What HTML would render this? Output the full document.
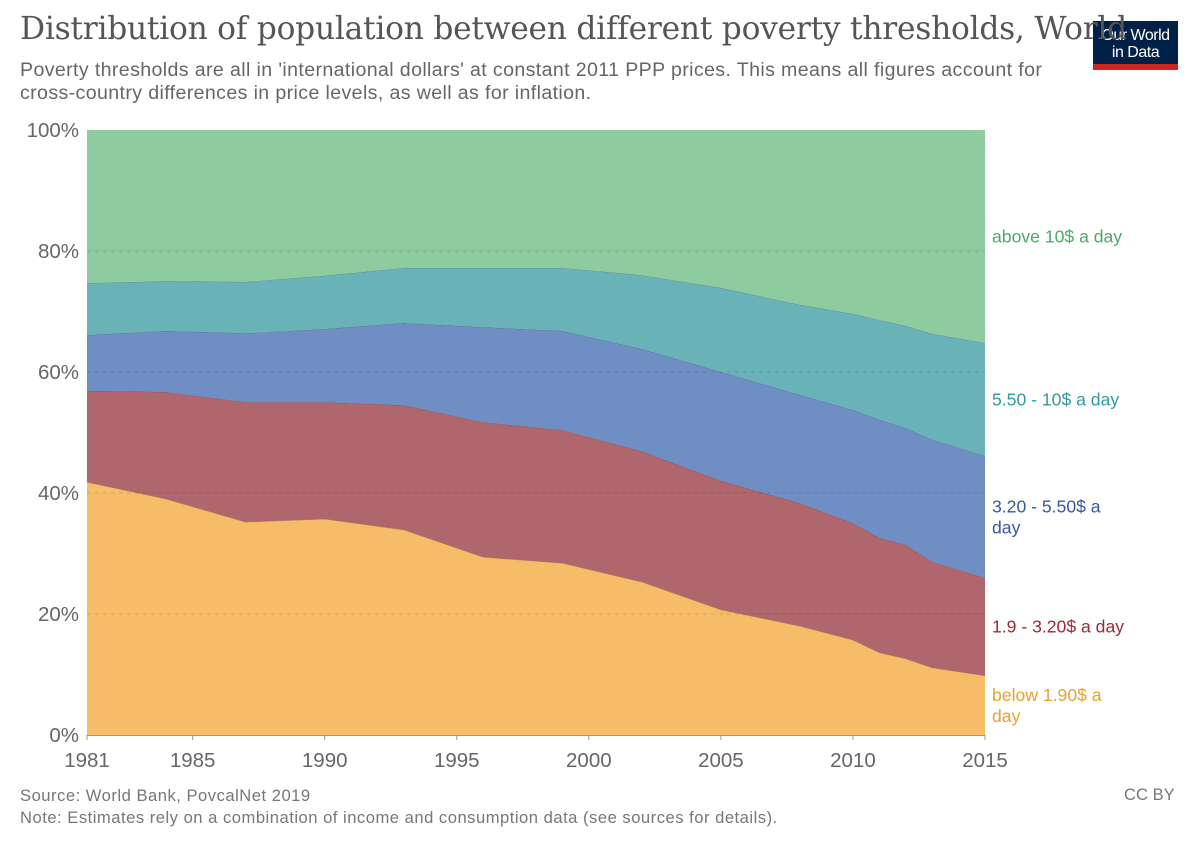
<!DOCTYPE html>
<html><head><meta charset="utf-8"><style>
body{margin:0;background:#fff;width:1200px;height:847px;overflow:hidden;font-family:"Liberation Sans",sans-serif;position:relative}
.t{position:absolute;white-space:nowrap}
</style></head><body>
<div class="t" style="left:1093px;top:21px;width:85px;height:49px;background:#002147;">
<div style="position:absolute;bottom:0;left:0;width:85px;height:6px;background:#ce261e"></div>
<div style="color:#fff;font-size:16px;line-height:17px;text-align:center;padding-top:6px;letter-spacing:-0.5px">Our World<br>in Data</div></div>
<div class="t" style="left:20px;top:11px;font-family:'DejaVu Serif','Liberation Serif',serif;font-size:31.3px;color:#555;letter-spacing:-0.25px;z-index:2">Distribution of population between different poverty thresholds, World</div>
<div class="t" style="left:20px;top:59px;font-size:19.6px;line-height:23px;color:#666;letter-spacing:0.37px">Poverty thresholds are all in 'international dollars' at constant 2011 PPP prices. This means all figures account for<br>cross-country differences in price levels, as well as for inflation.</div>
<svg id="c" width="1200" height="847" style="position:absolute;left:0;top:0" font-family="Liberation Sans, sans-serif"></svg>
<div class="t" style="left:20px;top:785px;font-size:16.6px;line-height:22px;color:#777;letter-spacing:0.5px">Source: World Bank, PovcalNet 2019<br>Note: Estimates rely on a combination of income and consumption data (see sources for details).</div>
<div class="t" style="left:1124px;top:785px;font-size:16.6px;color:#777">CC BY</div>
<script>
const years=[1981,1984,1987,1990,1993,1996,1999,2002,2005,2008,2010,2011,2012,2013,2015];
const below190=[41.8,39.0,35.2,35.7,33.9,29.4,28.4,25.3,20.7,18.0,15.7,13.6,12.6,11.1,9.8];
const b190to320=[15.1,17.7,19.8,19.3,20.6,22.3,22.0,21.6,21.3,20.3,19.3,19.0,18.8,17.5,16.2];
const b320to550=[9.2,10.1,11.4,12.1,13.6,15.7,16.4,16.9,18.0,17.9,18.7,19.5,19.3,20.2,20.1];
const b550to10=[8.6,8.2,8.5,8.8,9.1,9.8,10.4,12.2,13.9,14.9,15.9,16.5,16.9,17.5,18.7];
const xTicks=[1981,1985,1990,1995,2000,2005,2010,2015];
const yTicks=[0,20,40,60,80,100];
const series=[
 {name:'below-190',vals:below190,fill:'#f7bc67',lab:['below 1.90$ a','day'],col:'#e9a030'},
 {name:'190-320',vals:b190to320,fill:'#b0666d',lab:['1.9 - 3.20$ a day'],col:'#9a2a35'},
 {name:'320-550',vals:b320to550,fill:'#6f8ec4',lab:['3.20 - 5.50$ a','day'],col:'#3558a0'},
 {name:'550-10',vals:b550to10,fill:'#69b2b8',lab:['5.50 - 10$ a day'],col:'#2f9aa0'},
 {name:'above-10',vals:null,fill:'#8ecb9f',lab:['above 10$ a day'],col:'#4aaa6b'}];
const X=y=>87+(y-1981)*(985-87)/34, Y=v=>735-v*6.05;
const svg=document.getElementById('c'),NS='http://www.w3.org/2000/svg';
function mk(t,a,p){const e=document.createElementNS(NS,t);for(const k in a)e.setAttribute(k,a[k]);(p||svg).appendChild(e);return e;}
let base=years.map(()=>0);
series.forEach((s,si)=>{
 const top=s.vals?base.map((b,i)=>b+s.vals[i]):years.map(()=>100);
 let d='M'+years.map((y,i)=>X(y)+','+Y(top[i])).join('L')+'L'+years.slice().reverse().map((y,j)=>X(y)+','+Y(base[years.length-1-j])).join('L')+'Z';
 const p=mk('path',{d:d,fill:s.fill});
 
 
 if(s.vals){const ln=mk('path',{d:'M'+years.map((y,i)=>X(y)+','+Y(top[i])).join('L'),fill:'none',stroke:'rgba(0,0,0,0.3)','stroke-width':0.7});
 
 }
 const last=years.length-1;
 const mid=(top[last]+base[last])/2;
 s.lab.forEach((l,k)=>{const t=mk('text',{x:992,y:Y(mid)+6+(k-(s.lab.length-1)/2)*21,'font-size':17.6,fill:s.col});t.textContent=l;
 
 });
 base=top;
});
yTicks.forEach(v=>{
 if(v>0&&v<100){const l=mk('line',{x1:87,x2:985,y1:Y(v),y2:Y(v),stroke:'#000','stroke-opacity':0.12,'stroke-dasharray':'4,4'});
 
 }
 const t=mk('text',{x:79,y:Y(v)+7,'font-size':20.5,fill:'#666','text-anchor':'end'});t.textContent=v+'%';
 
 
});
const ax=mk('line',{x1:87,x2:985,y1:735.5,y2:735.5,stroke:'#999'});


xTicks.forEach(v=>{
 const tk=mk('line',{x1:X(v),x2:X(v),y1:735,y2:740,stroke:'#999'});
 
 
 const t=mk('text',{x:X(v),y:767,'font-size':20.5,fill:'#666','text-anchor':'middle'});t.textContent=v;
 
 
});
</script>
</body></html>
